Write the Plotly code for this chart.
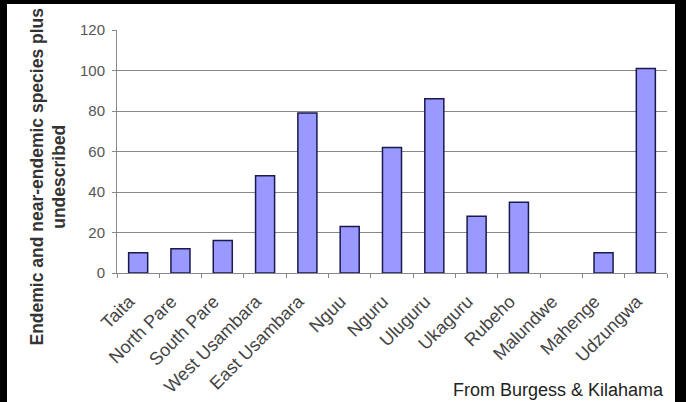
import plotly.graph_objects as go

categories = ["Taita", "North Pare", "South Pare", "West Usambara", "East Usambara",
              "Nguu", "Nguru", "Uluguru", "Ukaguru", "Rubeho", "Malundwe",
              "Mahenge", "Udzungwa"]
values = [10, 12, 16, 48, 79, 23, 62, 86, 28, 35, 0, 10, 101]
y_ticks = [0, 20, 40, 60, 80, 100, 120]

L, R, T, B = 117, 19, 30, 129
W, H = 686, 402
pw, ph = W - L - R, H - T - B

def px_x(p):
    return (p - L) / pw

def px_y(p):
    return (H - B - p) / ph

fig = go.Figure()
fig.add_trace(go.Bar(
    x=categories, y=values,
    marker=dict(color="#9999FF",
                line=dict(color="#1a1a4d", width=[1.5 if v > 0 else 0 for v in values])),
    width=0.45,
))

fig.update_layout(
    width=W, height=H,
    margin=dict(l=L, r=R, t=T, b=B, autoexpand=False),
    paper_bgcolor="black",
    plot_bgcolor="white",
    showlegend=False,
    font=dict(family="Liberation Sans, Arial", color="#333333", size=12),
    xaxis=dict(
        tickangle=-45, showgrid=False, showline=True, linecolor="#888888",
        ticks="outside", ticklen=4, tickcolor="#888888", automargin=False,
        ticklabelstandoff=10, ticklabelshift=-9,
        tickson="boundaries", tickfont=dict(size=18, color="#444444"),
        range=[-0.5, len(categories) - 0.5],
    ),
    yaxis=dict(
        range=[0, 120], tickvals=y_ticks, showgrid=True, gridcolor="#888888",
        gridwidth=1, showline=True, linecolor="#888888", ticks="outside",
        ticklen=4, tickcolor="#888888", ticklabelstandoff=4, automargin=False,
        tickfont=dict(size=15, color="#555555"),
        zeroline=False,
    ),
    shapes=[dict(type="rect", xref="paper", yref="paper",
                 x0=px_x(7), x1=px_x(675), y0=px_y(410), y1=px_y(4),
                 fillcolor="white", line=dict(width=0), layer="below")],
    annotations=[
        dict(text="<b>Endemic and near-endemic species plus<br>undescribed</b>",
             xref="paper", yref="paper", x=px_x(47.5), y=px_y(177),
             xanchor="center", yanchor="middle", textangle=-90, showarrow=False,
             font=dict(size=17.5, color="#333333")),
        dict(text="From Burgess & Kilahama", xref="paper", yref="paper",
             x=px_x(666), y=px_y(390), xanchor="right", yanchor="middle",
             showarrow=False, font=dict(size=18, color="#222222")),
    ],
)

fig.write_html("out.html")
